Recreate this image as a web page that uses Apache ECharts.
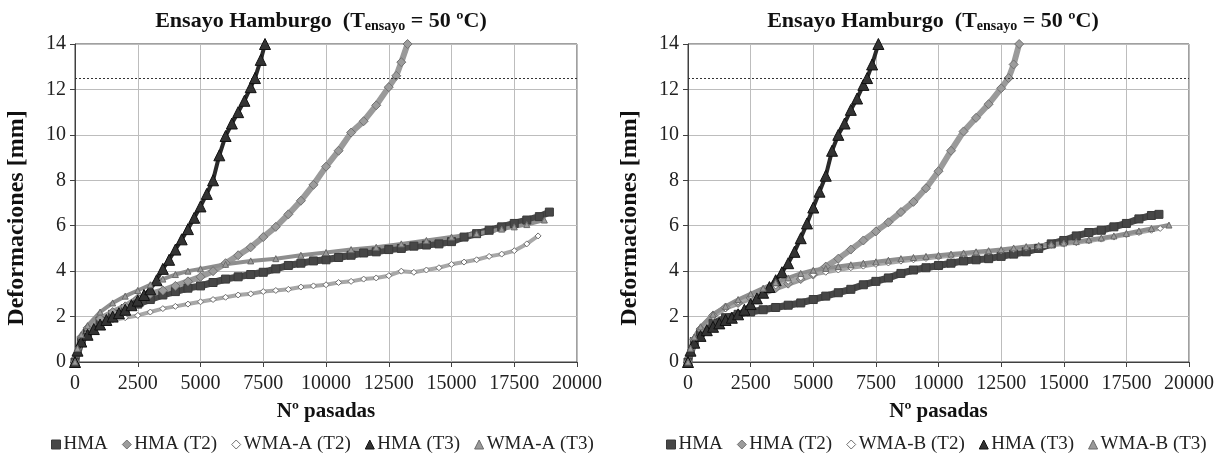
<!DOCTYPE html>
<html>
<head>
<meta charset="utf-8">
<script src="https://cdn.jsdelivr.net/npm/echarts@6/dist/echarts.min.js"></script>
<style>html,body{margin:0;padding:0;background:#fff}#c{width:1230px;height:459px}</style>
</head>
<body>
<div id="c"></div>
<script>
// ---------- data (N passes, deformation mm) ----------
const xTicks = [0, 2500, 5000, 7500, 10000, 12500, 15000, 17500, 20000];
const yTicks = [0, 2, 4, 6, 8, 10, 12, 14];
const limitLine = 12.5;

const legendLeft = ['HMA', 'HMA (T2)', 'WMA-A (T2)', 'HMA (T3)', 'WMA-A (T3)'];
const legendRight = ['HMA', 'HMA (T2)', 'WMA-B (T2)', 'HMA (T3)', 'WMA-B (T3)'];

// Left chart
const L_HMA = [[0,0],[250,0.9],[500,1.3],[1000,1.8],[1500,2.1],[2000,2.35],[2500,2.55],[3000,2.75],[3500,2.95],[4000,3.1],[4500,3.25],[5000,3.35],[5500,3.5],[6000,3.65],[6500,3.75],[7000,3.85],[7500,3.95],[8000,4.1],[8500,4.25],[9000,4.35],[9500,4.45],[10000,4.5],[10500,4.6],[11000,4.7],[11500,4.8],[12000,4.85],[12500,4.95],[13000,5.0],[13500,5.1],[14000,5.15],[14500,5.2],[15000,5.3],[15500,5.5],[16000,5.65],[16500,5.8],[17000,5.95],[17500,6.1],[18000,6.25],[18500,6.4],[18900,6.6]];
const L_HMA_T2 = [[0,0],[250,1.1],[500,1.5],[1000,1.9],[1500,2.2],[2000,2.45],[2500,2.8],[3000,3.0],[3500,3.15],[4000,3.35],[4500,3.55],[5000,3.75],[5500,4.0],[6000,4.35],[6500,4.7],[7000,5.05],[7500,5.5],[8000,5.95],[8500,6.5],[9000,7.1],[9500,7.8],[10000,8.6],[10500,9.3],[11000,10.1],[11500,10.6],[12000,11.3],[12500,12.1],[12800,12.6],[13000,13.2],[13250,14.0]];
const L_WMA_T2 = [[0,0],[100,0.5],[250,0.9],[500,1.3],[1000,1.65],[1500,1.85],[2000,1.95],[2500,2.05],[3000,2.2],[3500,2.35],[4000,2.45],[4500,2.55],[5000,2.65],[5500,2.75],[6000,2.85],[6500,2.95],[7000,3.0],[7500,3.1],[8000,3.15],[8500,3.2],[9000,3.3],[9500,3.35],[10000,3.4],[10500,3.5],[11000,3.55],[11500,3.65],[12000,3.7],[12500,3.8],[13000,4.0],[13500,3.95],[14000,4.05],[14500,4.15],[15000,4.3],[15500,4.4],[16000,4.5],[16500,4.65],[17000,4.75],[17500,4.9],[18000,5.2],[18450,5.55]];
const L_HMA_T3 = [[0,0],[100,0.5],[250,0.9],[500,1.2],[750,1.45],[1000,1.65],[1250,1.85],[1500,2.0],[1750,2.15],[2000,2.3],[2250,2.5],[2500,2.7],[2750,2.95],[3000,3.2],[3250,3.6],[3500,4.1],[3750,4.5],[4000,4.95],[4250,5.4],[4500,5.85],[4750,6.35],[5000,6.85],[5250,7.4],[5500,8.0],[5750,9.1],[6000,9.95],[6250,10.5],[6500,11.0],[6750,11.5],[7000,12.1],[7170,12.5],[7400,13.3],[7570,14.0]];
const L_WMA_T3 = [[0,0],[100,0.6],[250,1.2],[500,1.6],[1000,2.2],[1500,2.6],[2000,2.9],[2500,3.15],[3000,3.4],[3500,3.65],[4000,3.85],[4500,4.0],[5000,4.1],[6000,4.3],[7000,4.45],[8000,4.55],[9000,4.7],[10000,4.82],[11000,4.95],[12000,5.05],[13000,5.2],[14000,5.35],[15000,5.5],[16000,5.65],[17000,5.85],[17500,5.95],[18000,6.05],[18700,6.25]];

// Right chart
const R_HMA = [[0,0],[250,0.9],[500,1.3],[1000,1.7],[1500,1.95],[2000,2.1],[2500,2.2],[3000,2.3],[3500,2.4],[4000,2.5],[4500,2.6],[5000,2.75],[5500,2.9],[6000,3.05],[6500,3.2],[7000,3.4],[7500,3.55],[8000,3.7],[8500,3.9],[9000,4.05],[9500,4.15],[10000,4.25],[10500,4.35],[11000,4.45],[11500,4.5],[12000,4.55],[12500,4.65],[13000,4.75],[13500,4.85],[14000,5.0],[14500,5.2],[15000,5.35],[15500,5.55],[16000,5.7],[16500,5.8],[17000,5.95],[17500,6.1],[18000,6.3],[18500,6.45],[18800,6.5]];
const R_HMA_T2 = [[0,0],[250,1.0],[500,1.45],[1000,2.05],[1500,2.4],[2000,2.6],[2500,2.82],[3000,3.02],[3500,3.25],[4000,3.45],[4500,3.65],[5000,3.85],[5500,4.2],[6000,4.55],[6500,4.95],[7000,5.35],[7500,5.75],[8000,6.15],[8500,6.6],[9000,7.05],[9500,7.65],[10000,8.4],[10500,9.3],[11000,10.15],[11500,10.75],[12000,11.35],[12500,12.05],[12800,12.5],[13000,13.1],[13220,14.0]];
const R_WMA_T2 = [[0,0],[100,0.55],[250,1.05],[500,1.5],[1000,2.0],[1500,2.35],[2000,2.65],[2500,2.9],[3000,3.1],[3500,3.35],[4000,3.55],[4500,3.7],[5000,3.85],[5500,3.95],[6000,4.05],[6500,4.15],[7000,4.22],[7500,4.3],[8000,4.36],[8500,4.44],[9000,4.5],[9500,4.56],[10000,4.62],[10500,4.68],[11000,4.74],[11500,4.8],[12000,4.85],[12500,4.9],[13000,4.96],[13500,5.02],[14000,5.08],[14500,5.13],[15000,5.19],[15500,5.25],[16000,5.33],[16500,5.41],[17000,5.5],[17500,5.6],[18000,5.7],[18500,5.8],[18850,5.88]];
const R_HMA_T3 = [[0,0],[100,0.5],[250,0.85],[500,1.15],[750,1.4],[1000,1.55],[1250,1.7],[1500,1.85],[1750,1.95],[2000,2.1],[2250,2.3],[2500,2.55],[2750,2.8],[3000,3.05],[3250,3.3],[3500,3.6],[3750,3.95],[4000,4.35],[4250,4.85],[4500,5.45],[4750,6.1],[5000,6.8],[5250,7.5],[5500,8.2],[5750,9.3],[6000,10.0],[6250,10.5],[6500,11.1],[6750,11.6],[7000,12.2],[7150,12.5],[7350,13.1],[7600,14.0]];
const R_WMA_T3 = [[0,0],[100,0.6],[250,1.1],[500,1.55],[1000,2.1],[1500,2.45],[2000,2.75],[2500,3.0],[3000,3.25],[3500,3.5],[4000,3.7],[4500,3.9],[5000,4.04],[5500,4.12],[6000,4.2],[6500,4.28],[7000,4.35],[7500,4.41],[8000,4.48],[8500,4.55],[9000,4.6],[9500,4.65],[10000,4.7],[10500,4.75],[11000,4.8],[11500,4.85],[12000,4.9],[12500,4.95],[13000,5.02],[13500,5.08],[14000,5.13],[14500,5.18],[15000,5.24],[15500,5.3],[16000,5.38],[16500,5.46],[17000,5.55],[17500,5.66],[18000,5.77],[18500,5.88],[19200,6.03]];

// ---------- styles ----------
const FONT = 'Liberation Serif';
const styles = {
  HMA:   { symbol: 'rect', size: 8, color: '#474747', border: '#3a3a3a', lw: 7, lc: '#474747' },
  HMAT2: { symbol: 'diamond', size: 9, color: '#9c9c9c', border: '#727272', lw: 6, lc: '#9a9a9a' },
  WT2:   { symbol: 'diamond', size: 6, color: '#ffffff', border: '#707070', lw: 4, lc: '#a8a8a8' },
  HMAT3: { symbol: 'triangle', size: 11, color: '#333333', border: '#111111', lw: 4, lc: '#2a2a2a' },
  WT3:   { symbol: 'triangle', size: 6, color: '#9a9a9a', border: '#6a6a6a', lw: 4, lc: '#8e8e8e' }
};

function mkSeries(name, data, st, idx, withLimit) {
  const s = {
    name, type: 'line', data, xAxisIndex: idx, yAxisIndex: idx,
    symbol: st.symbol, symbolSize: st.size, showAllSymbol: true,
    itemStyle: { color: st.color, borderColor: st.border, borderWidth: 1 },
    lineStyle: { color: st.lc, width: st.lw },
    emphasis: { disabled: true }, animation: false, clip: true
  };
  if (withLimit) {
    s.markLine = {
      silent: true, symbol: 'none', label: { show: false }, animation: false,
      lineStyle: { type: [2, 2], color: '#333', width: 1 },
      data: [{ yAxis: limitLine }]
    };
  }
  return s;
}

const grids = [
  { left: 75, top: 44, width: 502, height: 318 },
  { left: 688, top: 44, width: 501, height: 318 }
];

function xAx(i) {
  return {
    type: 'value', gridIndex: i, min: xTicks[0], max: xTicks[xTicks.length - 1], interval: 2500,
    name: 'Nº pasadas', nameLocation: 'middle', nameGap: 39,
    nameTextStyle: { fontFamily: FONT, fontWeight: 'bold', fontSize: 21, color: '#111' },
    axisLine: { show: true, onZero: false, lineStyle: { color: '#404040', width: 1 } },
    axisTick: { show: true, length: 5, lineStyle: { color: '#404040' } },
    axisLabel: { fontFamily: FONT, fontSize: 20, color: '#222', margin: 12, formatter: v => String(v) },
    splitLine: { show: true, lineStyle: { color: '#bdbdbd', width: 1 } }
  };
}
function yAx(i) {
  return {
    type: 'value', gridIndex: i, min: yTicks[0], max: yTicks[yTicks.length - 1], interval: 2,
    name: 'Deformaciones [mm]', nameLocation: 'middle', nameGap: 46, nameRotate: 90,
    nameTextStyle: { fontFamily: FONT, fontWeight: 'bold', fontSize: 24, color: '#111', padding: [0, 30, 0, 0] },
    axisLine: { show: true, lineStyle: { color: '#404040', width: 1 } },
    axisTick: { show: true, length: 5, lineStyle: { color: '#404040' } },
    axisLabel: { fontFamily: FONT, fontSize: 20, color: '#222', margin: 9 },
    splitLine: { show: true, lineStyle: { color: '#bdbdbd', width: 1 } }
  };
}

function mkTitle(cx) {
  return {
    text: '{a|Ensayo Hamburgo  (T}{s|ensayo}{a| = 50 ºC)}',
    left: cx, top: 3, textAlign: 'center',
    textStyle: {
      rich: {
        a: { fontFamily: FONT, fontWeight: 'bold', fontSize: 22, color: '#111', lineHeight: 26 },
        s: { fontFamily: FONT, fontWeight: 'bold', fontSize: 14, color: '#111', lineHeight: 26, padding: [11, 0, 0, 0] }
      }
    }
  };
}

function legendItems(names) {
  const keys = ['HMA', 'HMAT2', 'WT2', 'HMAT3', 'WT3'];
  return names.map((n, i) => {
    const st = styles[keys[i]];
    return { name: n, icon: st.symbol, itemStyle: { color: st.color, borderColor: st.border, borderWidth: 1 } };
  });
}

function mkLegend(names, left) {
  return {
    data: legendItems(names), left, top: 430, itemWidth: 9, itemHeight: 9, itemGap: 14,
    selectedMode: false,
    textStyle: { fontFamily: FONT, fontSize: 19, color: '#222', padding: [0, 0, 0, -2] }
  };
}

const option = {
  backgroundColor: '#fff',
  animation: false,
  title: [mkTitle(316), mkTitle(928)],
  legend: [mkLegend(legendLeft, 46), mkLegend(legendRight, 661)],
  grid: grids.map(g => Object.assign({ show: true, borderColor: '#404040', borderWidth: 1, backgroundColor: 'transparent' }, g)),
  xAxis: [xAx(0), xAx(1)],
  yAxis: [yAx(0), yAx(1)],
  series: [
    mkSeries(legendLeft[0], L_HMA, styles.HMA, 0, true),
    mkSeries(legendLeft[1], L_HMA_T2, styles.HMAT2, 0, false),
    mkSeries(legendLeft[2], L_WMA_T2, styles.WT2, 0, false),
    mkSeries(legendLeft[3], L_HMA_T3, styles.HMAT3, 0, false),
    mkSeries(legendLeft[4], L_WMA_T3, styles.WT3, 0, false),
    mkSeries(legendRight[0], R_HMA, styles.HMA, 1, true),
    mkSeries(legendRight[1], R_HMA_T2, styles.HMAT2, 1, false),
    mkSeries(legendRight[2], R_WMA_T2, styles.WT2, 1, false),
    mkSeries(legendRight[3], R_HMA_T3, styles.HMAT3, 1, false),
    mkSeries(legendRight[4], R_WMA_T3, styles.WT3, 1, false)
  ]
};

const chart = echarts.init(document.getElementById('c'), null, { renderer: 'canvas' });
chart.setOption(option);
</script>
</body>
</html>
